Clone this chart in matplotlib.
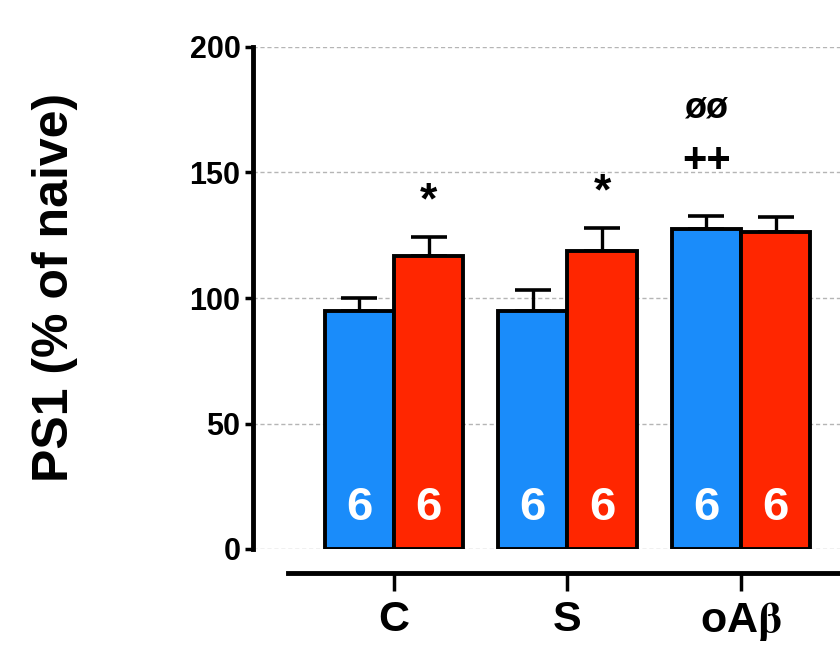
import numpy as np
import matplotlib
matplotlib.use('Agg')
import matplotlib.pyplot as plt

plt.rcParams['font.family'] = ['Liberation Sans', 'DejaVu Sans']
plt.rcParams['font.weight'] = 'bold'
plt.rcParams['mathtext.fontset'] = 'stix'

# data
groups = ['C', 'S', 'oA$\\mathrm{\\beta}$']
blue_vals = [95, 95, 127.5]
blue_err = [5, 8, 5]
red_vals = [116.7, 118.7, 126.3]
red_err = [7.5, 9, 6]
n_blue = [6, 6, 6]
n_red = [6, 6, 6]
star_marks = ['*', '*', '']
plus_marks = ['', '', '++']
oslash_marks = ['', '', 'øø']

blue = '#1a8cfa'
red = '#ff2600'

fig = plt.figure(figsize=(8.4, 6.61), dpi=100)
ax = fig.add_axes([253 / 840, 1 - 549 / 661, 587 / 840, 502 / 661])

x = np.arange(len(groups))
w = 0.4
ax.bar(x - w / 2, blue_vals, w, color=blue, edgecolor='black', linewidth=2.8, zorder=3)
ax.bar(x + w / 2, red_vals, w, color=red, edgecolor='black', linewidth=2.8, zorder=3)
ax.errorbar(x - w / 2, blue_vals, yerr=[np.zeros(3), blue_err], fmt='none', ecolor='black',
            elinewidth=2.4, capsize=13, capthick=2.6, zorder=2)
ax.errorbar(x + w / 2, red_vals, yerr=[np.zeros(3), red_err], fmt='none', ecolor='black',
            elinewidth=2.4, capsize=13, capthick=2.6, zorder=2)

# n labels inside bars
for i in range(len(groups)):
    ax.text(x[i] - w / 2, 16.5, str(n_blue[i]), color='white', ha='center', va='center',
            fontsize=34, zorder=4)
    ax.text(x[i] + w / 2, 16.5, str(n_red[i]), color='white', ha='center', va='center',
            fontsize=34, zorder=4)

# significance marks
for i in range(len(groups)):
    if star_marks[i]:
        top = red_vals[i] + red_err[i]
        ax.text(x[i] + w / 2, top + 14, star_marks[i], ha='center', va='center', fontsize=32)
    if plus_marks[i]:
        ax.text(x[i] - w / 2, 154.5, plus_marks[i], ha='center', va='center', fontsize=30)
    if oslash_marks[i]:
        ax.text(x[i] - w / 2, 175.5, oslash_marks[i], ha='center', va='center', fontsize=26)

ax.set_ylim(0, 200)
ax.set_xlim(-0.813, 2.571)
ax.set_yticks([0, 50, 100, 150, 200])
ax.yaxis.grid(True, linestyle=(0, (3, 2)), color='#b5b5b5', linewidth=1)
ax.set_axisbelow(True)

for s in ['top', 'right']:
    ax.spines[s].set_visible(False)
ax.spines['left'].set_linewidth(3.5)
ax.spines['bottom'].set_linewidth(3.5)
ax.spines['bottom'].set_position(('outward', 17))
ax.spines['bottom'].set_bounds(-0.611, 2.571)

ax.set_xticks(x)
ax.set_xticklabels(groups, fontsize=31, fontweight='bold')
ax.tick_params(axis='x', length=13, width=2.5, pad=7)
ax.tick_params(axis='y', length=6, width=2.5, pad=3, labelsize=22)
for lab in ax.get_yticklabels():
    lab.set_fontweight('bold')

ax.set_ylabel('PS1 (% of naive)', fontsize=36, fontweight='bold')
ax.yaxis.set_label_coords(-0.298, 0.521)

fig.savefig('out.png', dpi=100)
